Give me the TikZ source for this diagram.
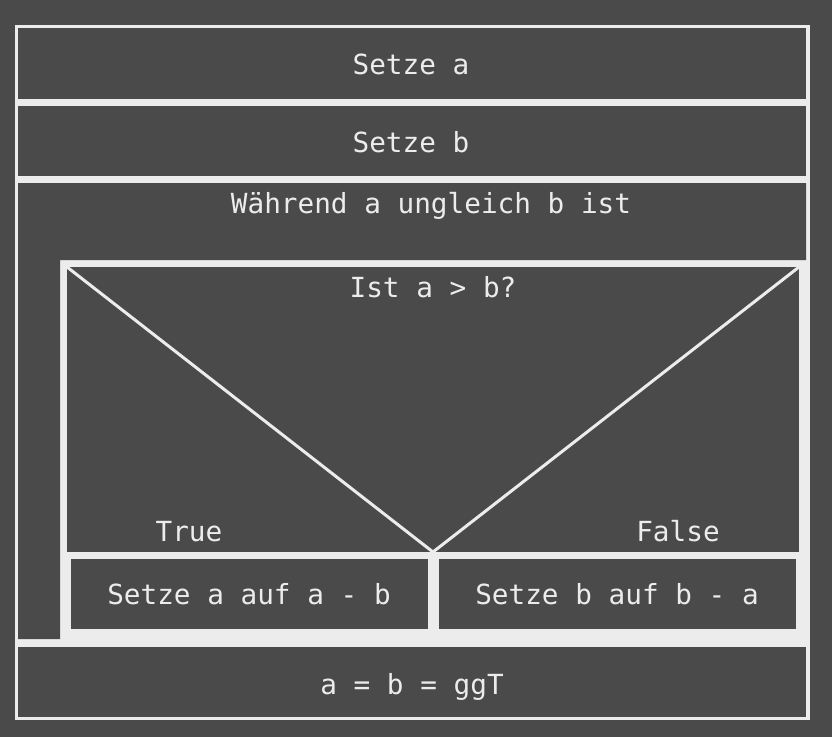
\documentclass[tikz,border=0pt]{standalone}
\usepackage{fontspec}
\setmonofont{DejaVu Sans Mono}
\definecolor{bg}{HTML}{4A4A4A}
\definecolor{fg}{HTML}{ECECEC}
\tikzset{lbl/.style={text=fg, anchor=base, inner sep=0pt,
    font=\ttfamily\fontsize{27.8}{30}\selectfont}}

\begin{document}
\begin{tikzpicture}[x=1bp, y=-1bp]
\useasboundingbox (0,0) rectangle (832,737);
\fill[bg] (0,0) rectangle (832,737);
\fill[fg] (15,25) rectangle (810,720);

% cells
\fill[bg] (18,28) rectangle (806,99);
\fill[bg] (18,106) rectangle (806,176);
\fill[bg] (18,183) -- (806,183) -- (806,260) -- (60,260) -- (60,639) -- (18,639) -- cycle;
\fill[bg] (67,267) rectangle (799,552);
\fill[bg] (71,559) rectangle (428,629);
\fill[bg] (439,559) rectangle (796,629);
\fill[bg] (18,647) rectangle (806,717);

% decision
\coordinate (tl) at (67,267);
\coordinate (tr) at (799,267);
\coordinate (tip) at (433,552);
\draw[fg, line width=3bp] (tl) -- (tip) -- (tr);

\node[lbl] (seta) at (411,75) {Setze a};
\node[lbl] (setb) at (411,152) {Setze b};
\node[lbl] (loop) at (431,213) {Während a ungleich b ist};
\node[lbl] (cond) at (433,297) {Ist a > b?};
\node[lbl] (yes) at (189,541) {True};
\node[lbl] (no) at (678,541) {False};
\node[lbl] (thena) at (249,604) {Setze a auf a - b};
\node[lbl] (thenb) at (617,604) {Setze b auf b - a};
\node[lbl] (result) at (412,694) {a = b = ggT};
\end{tikzpicture}
\end{document}
